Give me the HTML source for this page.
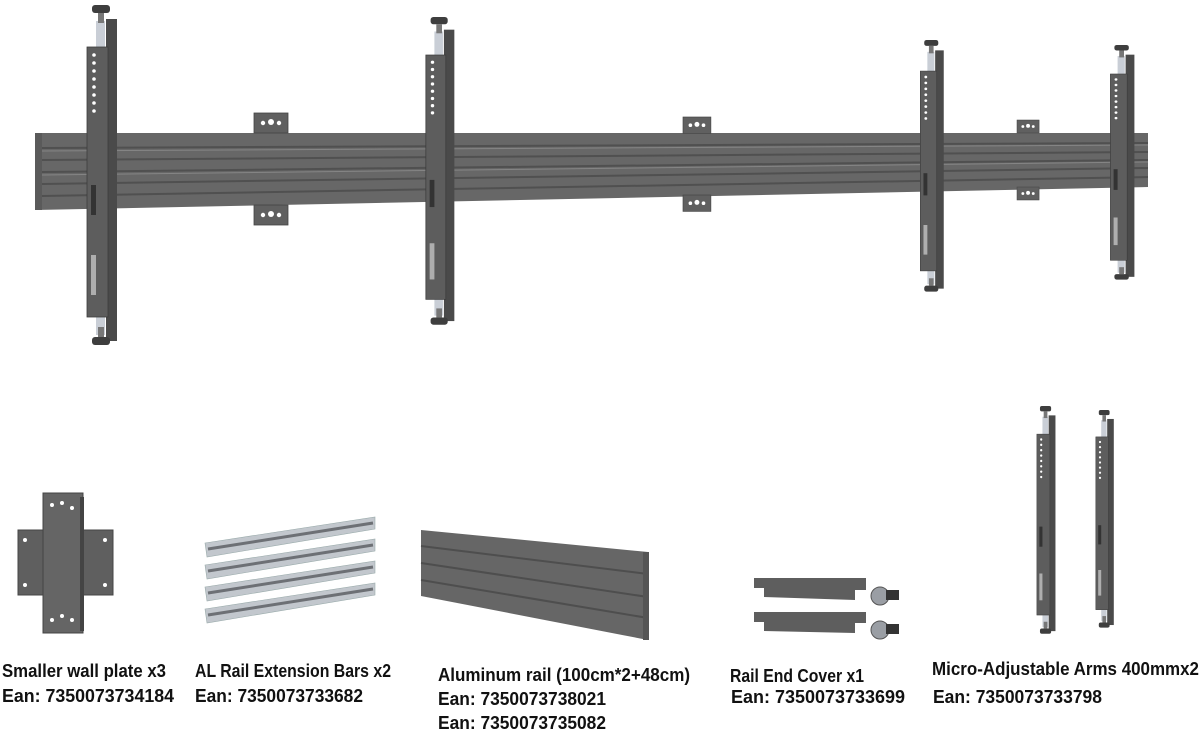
<!DOCTYPE html>
<html><head><meta charset="utf-8"><style>
html,body{margin:0;padding:0;background:#fff;}
svg{display:block;}
text{font-family:"Liberation Sans Narrow","Liberation Sans",sans-serif;font-weight:bold;fill:#111;}
</style></head><body>
<svg width="1200" height="734" viewBox="0 0 1200 734" xmlns="http://www.w3.org/2000/svg">
<defs>
<g id="arm">
  <rect x="22" y="14" width="11" height="322" fill="#4a4a4a"/>
  <rect x="12" y="16" width="9" height="80" fill="#c9ced6"/>
  <rect x="12" y="250" width="9" height="80" fill="#c9ced6"/>
  <rect x="3" y="42" width="21" height="270" fill="#5d5d5d" stroke="#3c3c3c" stroke-width="0.8"/>
  <g fill="#fff">
    <circle cx="10" cy="50" r="1.8"/><circle cx="10" cy="58" r="1.8"/><circle cx="10" cy="66" r="1.8"/>
    <circle cx="10" cy="74" r="1.8"/><circle cx="10" cy="82" r="1.8"/><circle cx="10" cy="90" r="1.8"/>
    <circle cx="10" cy="98" r="1.8"/><circle cx="10" cy="106" r="1.8"/>
  </g>
  <rect x="7" y="180" width="5" height="30" fill="#333"/>
  <rect x="7" y="250" width="5" height="40" fill="#fff" opacity="0.5"/>
  <rect x="8" y="0" width="18" height="8" rx="3" fill="#3e3e3e"/>
  <rect x="14" y="8" width="6" height="10" fill="#777"/>
  <rect x="14" y="322" width="6" height="10" fill="#777"/>
  <rect x="8" y="332" width="18" height="8" rx="3" fill="#3e3e3e"/>
</g>
<g id="tab">
  <rect x="0" y="0" width="34" height="20" fill="#606060" stroke="#444" stroke-width="0.8"/>
  <circle cx="9" cy="10" r="2.2" fill="#fff"/><circle cx="17" cy="9" r="3" fill="#fff"/><circle cx="25" cy="10" r="2.2" fill="#fff"/>
</g>
</defs>

<polygon points="35,133 1148,133 1148,187 35,210" fill="#676767"/>
<polygon points="35,133 42,133 42,210 35,210" fill="#5a5a5a"/>
<g stroke="#505050" stroke-width="2">
  <line x1="42" y1="148" x2="1148" y2="143"/>
  <line x1="42" y1="160" x2="1148" y2="152"/>
  <line x1="42" y1="172" x2="1148" y2="160"/>
  <line x1="42" y1="184" x2="1148" y2="168"/>
  <line x1="42" y1="196" x2="1148" y2="177"/>
</g>
<g stroke="#858585" stroke-width="1">
  <line x1="42" y1="151" x2="1148" y2="145"/>
  <line x1="42" y1="175" x2="1148" y2="162"/>
</g>
<use href="#tab" transform="translate(254,113)"/>
<use href="#tab" transform="translate(254,205)"/>
<use href="#tab" transform="translate(683,117) scale(0.82)"/>
<use href="#tab" transform="translate(683,195) scale(0.82)"/>
<use href="#tab" transform="translate(1017,120) scale(0.65)"/>
<use href="#tab" transform="translate(1017,187) scale(0.65)"/>
<use href="#arm" transform="translate(84,5)"/>
<use href="#arm" transform="translate(423,17) scale(0.95,0.905)"/>
<use href="#arm" transform="translate(918,40) scale(0.78,0.74)"/>
<use href="#arm" transform="translate(1108,45) scale(0.8,0.69)"/>

<rect x="18" y="530" width="95" height="65" fill="#5f5f5f" stroke="#444"/>
<rect x="43" y="493" width="40" height="140" fill="#656565" stroke="#444"/>
<rect x="80" y="497" width="4" height="134" fill="#444"/>
<g fill="#fff"><circle cx="52" cy="505" r="2"/><circle cx="62" cy="503" r="2"/><circle cx="72" cy="508" r="2"/>
<circle cx="52" cy="620" r="2"/><circle cx="62" cy="616" r="2"/><circle cx="72" cy="620" r="2"/>
<circle cx="25" cy="540" r="2"/><circle cx="25" cy="585" r="2"/><circle cx="105" cy="540" r="2"/><circle cx="105" cy="585" r="2"/></g>

<g>
  <polygon points="205,543 375,517 375,529 207,557" fill="#c2c7cd" stroke="#9aa" stroke-width="0.6"/>
  <line x1="208" y1="549" x2="373" y2="523" stroke="#6d7075" stroke-width="3"/>
  <polygon points="205,565 375,539 375,551 207,579" fill="#c2c7cd" stroke="#9aa" stroke-width="0.6"/>
  <line x1="208" y1="571" x2="373" y2="545" stroke="#6d7075" stroke-width="3"/>
  <polygon points="205,587 375,561 375,573 207,601" fill="#c2c7cd" stroke="#9aa" stroke-width="0.6"/>
  <line x1="208" y1="593" x2="373" y2="567" stroke="#6d7075" stroke-width="3"/>
  <polygon points="205,609 375,583 375,595 207,623" fill="#c2c7cd" stroke="#9aa" stroke-width="0.6"/>
  <line x1="208" y1="615" x2="373" y2="589" stroke="#6d7075" stroke-width="3"/>
</g>

<polygon points="421,530 648,552 648,640 421,596" fill="#666"/>
<g stroke="#4e4e4e" stroke-width="2">
  <line x1="421" y1="546" x2="648" y2="574"/>
  <line x1="421" y1="563" x2="648" y2="597"/>
  <line x1="421" y1="580" x2="648" y2="618"/>
</g>
<rect x="643" y="552" width="6" height="88" fill="#555"/>

<polygon points="754,578 866,578 866,590 855,590 855,600 764,597 764,588 754,588" fill="#5e5e5e"/>
<polygon points="754,612 866,612 866,623 855,623 855,633 764,631 764,622 754,622" fill="#5e5e5e"/>
<circle cx="880" cy="596" r="9" fill="#9a9ea4" stroke="#555"/>
<rect x="886" y="590" width="13" height="10" fill="#333"/>
<circle cx="880" cy="630" r="9" fill="#9a9ea4" stroke="#555"/>
<rect x="886" y="624" width="13" height="10" fill="#333"/>

<use href="#arm" transform="translate(1035,406) scale(0.62,0.67)"/>
<use href="#arm" transform="translate(1094,410) scale(0.6,0.64)"/>

<text x="2" y="677" font-size="18" textLength="164" lengthAdjust="spacingAndGlyphs">Smaller wall plate x3</text>
<text x="2" y="702" font-size="18" textLength="172" lengthAdjust="spacingAndGlyphs">Ean:  7350073734184</text>
<text x="195" y="677" font-size="18" textLength="196" lengthAdjust="spacingAndGlyphs">AL Rail Extension Bars x2</text>
<text x="195" y="702" font-size="18" textLength="168" lengthAdjust="spacingAndGlyphs">Ean: 7350073733682</text>
<text x="438" y="681" font-size="18" textLength="252" lengthAdjust="spacingAndGlyphs">Aluminum rail (100cm*2+48cm)</text>
<text x="438" y="705" font-size="18" textLength="168" lengthAdjust="spacingAndGlyphs">Ean:  7350073738021</text>
<text x="438" y="729" font-size="18" textLength="168" lengthAdjust="spacingAndGlyphs">Ean:  7350073735082</text>
<text x="730" y="682" font-size="18" textLength="134" lengthAdjust="spacingAndGlyphs">Rail End Cover x1</text>
<text x="731" y="703" font-size="18" textLength="174" lengthAdjust="spacingAndGlyphs">Ean:  7350073733699</text>
<text x="932" y="675" font-size="18" textLength="267" lengthAdjust="spacingAndGlyphs">Micro-Adjustable Arms 400mmx2</text>
<text x="933" y="703" font-size="18" textLength="169" lengthAdjust="spacingAndGlyphs">Ean: 7350073733798</text>
</svg>
</body></html>
